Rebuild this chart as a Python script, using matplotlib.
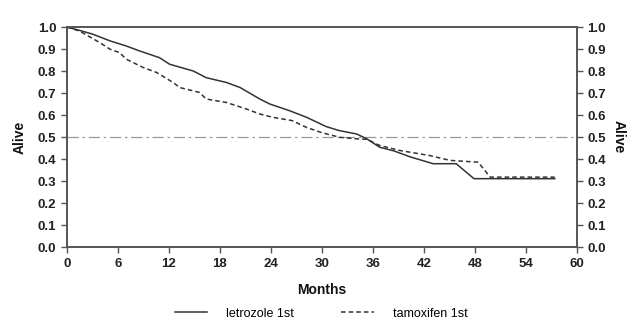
import matplotlib
matplotlib.use("Agg")
import matplotlib.pyplot as plt
from matplotlib.lines import Line2D

plt.rcParams["font.family"] = ["Liberation Sans", "DejaVu Sans"]

# Survival estimates
letro_months = [0, 1.5, 3.1, 5.1, 7.0, 8.6, 10.9, 12.1, 14.9, 16.4, 18.8, 20.4,
                22.7, 23.9, 26.2, 28.2, 30.5, 32.0, 34.1, 35.3, 36.8, 38.5,
                40.4, 43.1, 45.8, 47.9, 57.4]
letro_alive = [1.0, 0.985, 0.967, 0.937, 0.914, 0.891, 0.861, 0.831, 0.80,
               0.77, 0.748, 0.725, 0.673, 0.65, 0.62, 0.59, 0.548, 0.53, 0.514,
               0.492, 0.454, 0.437, 0.41, 0.379, 0.379, 0.311, 0.311]
tamox_months = [0, 1.5, 3.9, 5.1, 6.2, 7.0, 9.0, 10.6, 12.5, 13.3, 15.6, 16.4,
                18.8, 21.1, 22.7, 24.2, 26.5, 28.2, 30.0, 32.1, 34.1, 35.3,
                36.8, 39.2, 42.7, 45.1, 48.4, 49.8, 57.4]
tamox_alive = [1.0, 0.982, 0.929, 0.899, 0.884, 0.854, 0.816, 0.793, 0.748,
               0.725, 0.703, 0.673, 0.657, 0.628, 0.605, 0.59, 0.575, 0.544,
               0.52, 0.499, 0.492, 0.49, 0.462, 0.439, 0.416, 0.394, 0.386,
               0.318, 0.318]
median_line = 0.5
x_ticks = list(range(0, 61, 6))
y_ticks = [i / 10 for i in range(11)]
series_labels = ["letrozole 1st", "tamoxifen 1st"]

fig = plt.figure(figsize=(6.36, 3.26), dpi=100)
ax = fig.add_axes([0.105, 0.242, 0.802, 0.675])
ax2 = ax.twinx()

ink = "#333333"
ax.axhline(median_line, color="#999999", lw=0.9, ls=(0, (9, 3, 2, 3)))
ax.plot(letro_months, letro_alive, color=ink, lw=1.1)
ax.plot(tamox_months, tamox_alive, color=ink, lw=1.1, ls=(0, (3, 2)))

ax.set_xlim(0, 60)
for a in (ax, ax2):
    a.set_ylim(0, 1.0)
    a.set_yticks(y_ticks)
    a.set_yticklabels([f"{v:.1f}" for v in y_ticks])
    for s in a.spines.values():
        s.set_color("#555555")
        s.set_linewidth(1.2)
    a.tick_params(colors="#555555", labelcolor="#222222", length=4, width=1,
                  labelsize=9.5)
    for lab in a.get_yticklabels():
        lab.set_fontweight("bold")
ax.set_xticks(x_ticks)
for lab in ax.get_xticklabels():
    lab.set_fontweight("bold")
ax.set_xlabel("Months", fontsize=10, fontweight="bold", color="#111111", labelpad=10)
ax.set_ylabel("Alive", fontsize=10, fontweight="bold", color="#111111", labelpad=8)
ax2.set_ylabel("Alive", fontsize=10, fontweight="bold", color="#111111",
               rotation=270, labelpad=14)

handles = [Line2D([], [], color=ink, lw=1.1),
           Line2D([], [], color=ink, lw=1.1, ls=(0, (3, 2)))]
fig.legend(handles, series_labels, loc="lower center", ncol=2, frameon=False,
           bbox_to_anchor=(0.505, -0.015), fontsize=9, handlelength=2.6,
           handletextpad=1.5, columnspacing=3.8)

fig.savefig("out.png", dpi=100)
